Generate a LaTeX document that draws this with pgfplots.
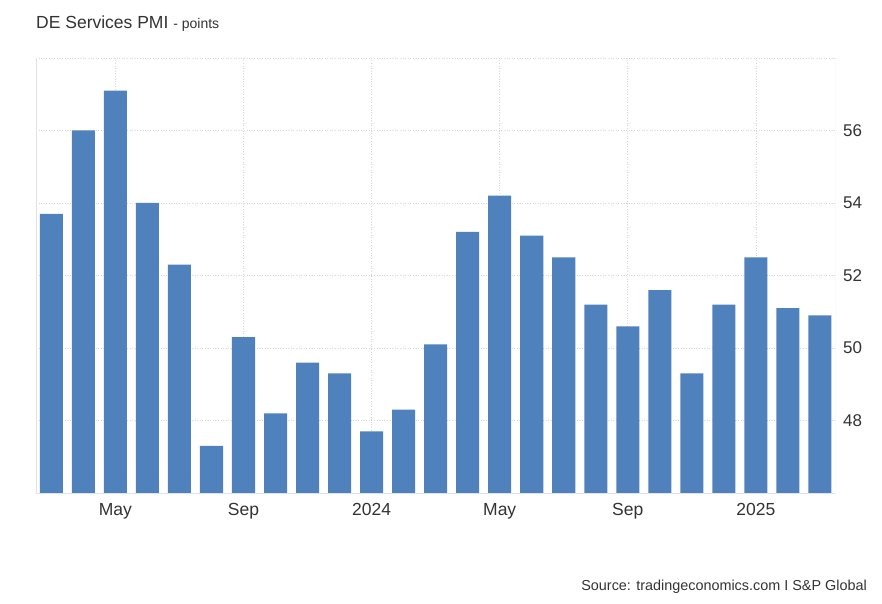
\documentclass[border=0pt]{standalone}
\usepackage{pgfplots}
\pgfplotsset{compat=1.18}
\usepackage{fontspec}
\setmainfont{Liberation Sans}
\definecolor{barblue}{RGB}{79,129,189}
\definecolor{gridgray}{RGB}{215,215,215}
\definecolor{axgray}{RGB}{225,225,230}
\definecolor{txt}{RGB}{51,51,51}
\begin{document}
\begin{tikzpicture}[x=1pt,y=1pt]
\useasboundingbox (0,0) rectangle (882,603);
\begin{axis}[
  at={(36pt,110pt)}, anchor=south west,
  scale only axis, width=799pt, height=435pt,
  xmin=-0.48, xmax=24.47, ymin=46, ymax=58,
  xtick={2,6,10,14,18,22},
  xticklabels={May,Sep,2024,May,Sep,2025},
  ytick={48,50,52,54,56,58},
  yticklabels={48,50,52,54,56,},
  yticklabel pos=right,
  major tick length=0pt,
  axis line style={draw=none},
  grid=major,
  major grid style={gridgray, line width=0.8pt, dash pattern=on 1pt off 1.6pt},
  /pgf/number format/assume math mode=true,
  xticklabel style={font=\fontsize{17.5}{20}\selectfont, text=txt, inner sep=0pt, anchor=base, yshift=-22pt},
  yticklabel style={font=\fontsize{17}{20}\selectfont, text=txt, inner sep=0pt, anchor=west, xshift=8pt},
  clip=true,
]
\addplot[ybar, bar width=0.72, fill=barblue, draw=none] coordinates {
(0,53.7) (1,56.0) (2,57.1) (3,54.0) (4,52.3) (5,47.3) (6,50.3) (7,48.2)
(8,49.6) (9,49.3) (10,47.7) (11,48.3) (12,50.1) (13,53.2) (14,54.2) (15,53.1)
(16,52.5) (17,51.2) (18,50.6) (19,51.6) (20,49.3) (21,51.2) (22,52.5) (23,51.1) (24,50.9)
};
\draw[axgray, line width=0.8pt] (rel axis cs:0,0) -- (rel axis cs:0,1);
\draw[axgray, line width=0.8pt] (rel axis cs:1,0) -- (rel axis cs:1,1);
\draw[axgray, line width=1pt] (rel axis cs:0,0) -- (rel axis cs:1,0);
\end{axis}
\node[anchor=base west, inner sep=0pt, text=txt] at (36,574) {\fontsize{17.5}{20}\selectfont DE Services PMI \fontsize{14}{16}\selectfont - points};
\node[anchor=base east, inner sep=0pt, text=txt] at (867,13) {\fontsize{14.4}{17}\selectfont Source: tradingeconomics.com I S\&P Global};
\end{tikzpicture}
\end{document}
